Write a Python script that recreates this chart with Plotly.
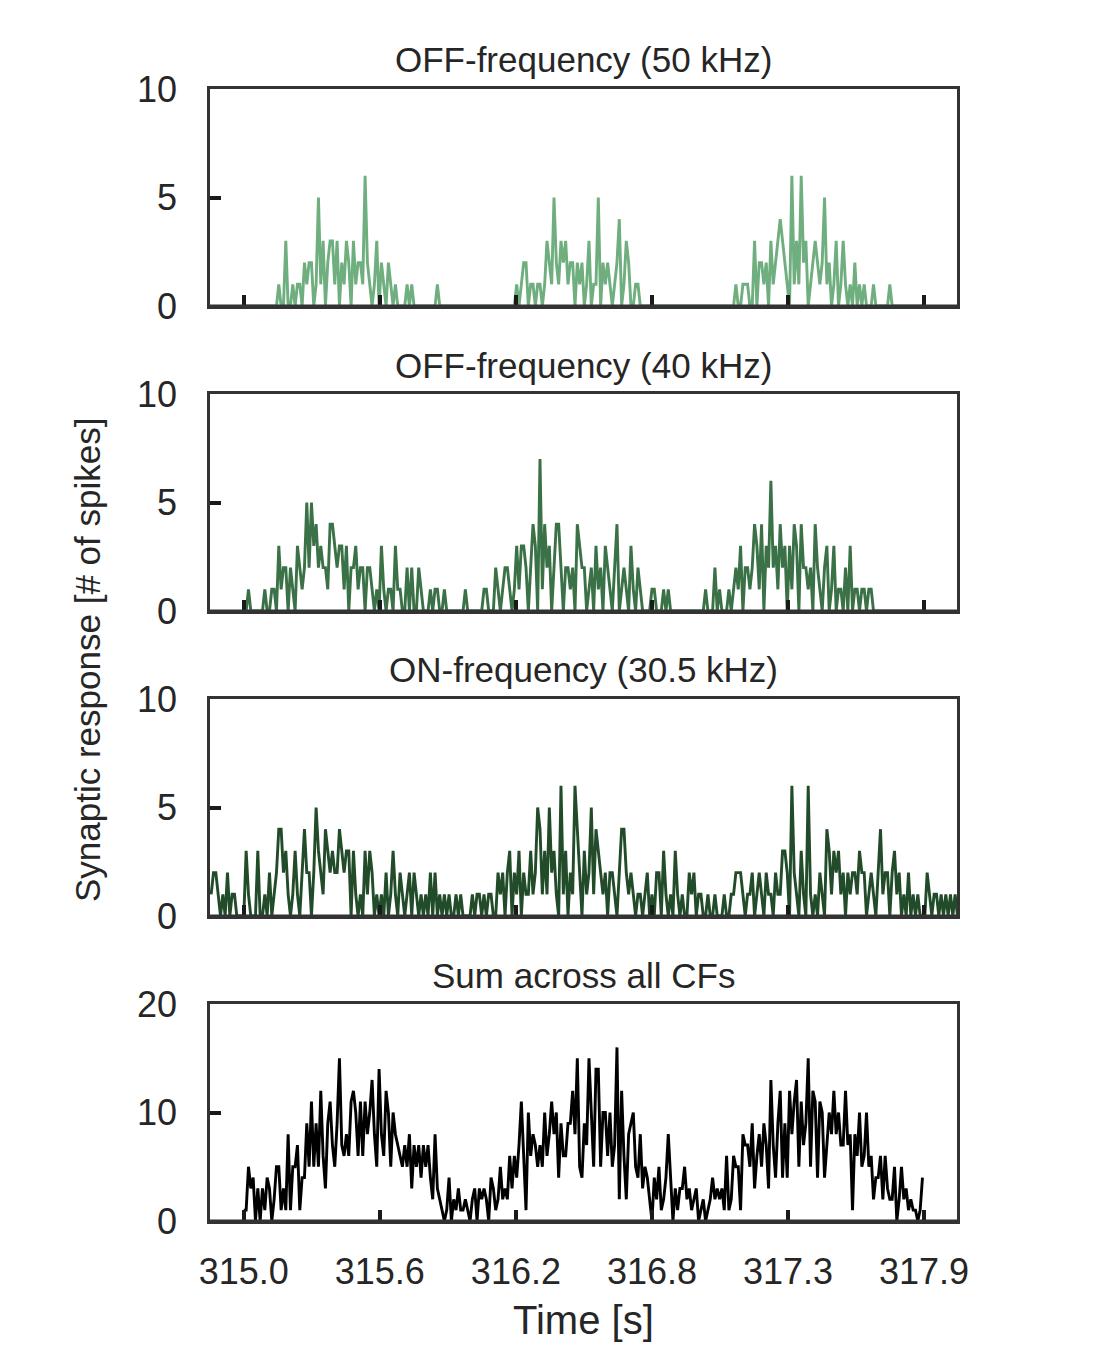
import numpy as np
import plotly.graph_objects as go

# ---------------- data ----------------
bin_width = 0.01
t_start_main = 315.0
t_start_on = 314.86

off50 = [
 0,0,0,0,0,0,0,0,0,0,0,0,0,0,0,1,0,0,3,0,
 0,1,0,1,1,0,2,1,2,2,0,1,5,1,3,0,2,3,3,1,
 3,0,2,1,3,2,0,3,1,2,2,1,6,2,1,0,1,3,0,2,
 1,0,2,1,0,1,0,0,0,0,1,0,1,0,0,0,0,0,0,0,
 0,0,0,1,0,0,0,0,0,0,0,0,0,0,0,0,0,0,0,0,
 0,0,0,0,0,0,0,0,0,0,0,0,0,0,0,0,0,1,0,1,
 2,2,0,1,1,0,1,1,0,1,3,2,1,5,2,1,3,2,3,1,
 2,2,0,2,1,2,0,1,3,0,1,1,5,0,2,1,2,1,0,1,
 2,4,0,1,3,2,0,0,1,1,0,0,0,0,0,0,0,0,0,0,
 0,0,0,0,0,0,0,0,0,0,0,0,0,0,0,0,0,0,0,0,
 0,0,0,0,0,0,0,0,0,0,0,1,0,0,1,1,1,0,0,3,
 0,2,2,1,2,0,3,1,2,3,4,3,2,1,0,6,1,3,1,6,
 2,3,0,1,2,3,2,1,2,5,1,2,0,1,3,0,1,3,1,0,
 1,0,2,0,1,0,1,0,0,0,1,0,0,0,0,0,0,1,0,0,
 0,0,0,0,0,0,0,0,0,0,0,0,
]

off40 = [
 0,0,1,0,0,0,0,0,0,1,0,0,1,1,0,3,1,2,2,0,
 2,1,0,3,2,1,2,5,2,5,3,4,2,3,2,2,1,4,4,3,
 2,3,3,1,3,0,2,2,3,1,2,2,0,2,2,1,0,1,0,3,
 1,0,1,1,0,3,1,1,0,0,2,0,2,0,0,2,1,0,0,0,
 1,0,1,1,0,0,1,0,0,0,0,0,0,0,0,1,0,0,0,0,
 0,0,0,1,1,0,0,0,2,1,0,1,2,2,1,0,1,3,1,3,
 3,2,0,2,4,3,0,7,1,4,2,3,0,2,4,4,2,0,2,2,
 1,2,0,4,3,2,2,0,1,2,0,3,1,2,0,3,2,1,0,2,
 4,0,1,2,1,0,3,1,0,2,1,0,0,0,0,1,1,0,0,0,
 1,0,1,0,0,0,0,0,0,0,0,0,0,0,0,0,0,0,1,0,
 0,0,2,0,1,0,0,0,1,0,1,2,1,3,0,2,2,1,2,4,
 3,1,4,0,3,2,6,2,3,1,4,2,3,0,3,1,4,3,0,4,
 2,2,1,2,0,4,2,1,0,2,3,0,1,3,0,1,1,0,2,0,
 3,0,1,1,0,1,1,0,1,1,0,0,0,0,0,0,0,0,0,0,
 0,0,0,0,0,0,0,0,0,0,0,0,
]

on305 = [
 1,2,2,1,0,1,0,2,0,1,1,0,0,0,0,3,1,0,0,0,
 3,0,0,1,0,2,0,1,2,4,4,2,3,1,0,1,3,1,0,2,
 4,2,2,0,2,5,3,2,1,4,3,2,3,2,2,4,3,2,3,3,
 0,3,1,0,1,0,3,1,3,2,0,1,0,1,0,2,0,1,3,1,
 0,2,1,0,1,2,0,2,1,0,1,0,1,0,2,0,2,0,1,0,
 1,0,1,0,0,1,0,1,0,0,0,0,1,0,1,1,0,1,0,1,
 1,0,0,2,1,2,0,2,3,0,2,1,3,0,2,1,1,3,1,2,
 5,4,1,3,1,5,2,3,1,0,6,1,3,0,2,1,6,4,2,0,
 3,1,2,5,1,4,3,2,1,2,0,2,2,1,0,2,4,4,2,1,
 2,1,0,1,1,0,1,2,0,1,0,2,2,0,3,1,0,1,0,3,
 1,0,1,0,0,2,1,2,0,1,1,0,0,1,0,0,1,0,0,0,
 1,0,0,1,1,2,2,2,1,0,1,1,2,0,1,2,1,0,2,1,
 1,0,2,1,1,3,3,2,0,6,2,1,0,3,1,0,6,1,0,1,
 0,2,1,0,4,3,1,3,2,3,1,2,0,2,1,2,2,1,3,2,
 2,0,1,2,1,0,2,4,1,2,2,0,2,3,1,2,0,1,0,2,
 0,1,0,1,0,0,0,2,1,0,1,1,0,1,0,1,0,1,0,1,0,
]

sum_all = [
 1,1,5,3,4,0,3,0,3,1,4,3,0,2,5,5,1,3,1,8,
 1,5,5,7,1,4,4,9,5,11,5,9,5,12,6,3,9,11,7,5,
 9,15,7,6,8,6,11,12,10,6,11,6,11,8,10,13,8,5,14,8,
 6,12,10,5,10,8,7,6,5,7,5,8,3,7,5,7,4,7,5,7,
 4,2,8,3,2,1,0,1,4,0,2,1,3,1,1,2,1,0,2,3,
 0,3,2,3,2,0,4,3,1,2,5,2,3,2,6,3,6,4,7,11,
 6,1,10,6,8,7,5,7,5,10,6,8,11,8,10,4,9,6,6,9,
 9,12,8,15,5,4,9,7,15,10,5,14,14,5,10,10,6,10,5,7,
 16,2,12,6,2,8,9,10,5,4,8,3,5,4,2,0,4,2,5,1,
 2,4,8,4,0,3,1,3,3,5,2,3,1,2,3,0,1,2,0,1,
 2,4,2,3,2,3,1,6,1,2,6,5,5,1,8,7,7,5,9,3,
 6,8,5,9,7,3,13,7,4,9,12,4,9,4,12,8,11,13,5,11,
 7,9,15,5,12,11,4,11,10,4,7,10,8,12,8,10,7,7,12,7,
 8,1,8,6,10,5,6,10,5,6,2,4,4,6,2,6,3,2,2,5,
 0,2,5,2,3,1,2,1,1,0,1,4,
]

panel_titles = ["OFF-frequency (50 kHz)", "OFF-frequency (40 kHz)",
                "ON-frequency (30.5 kHz)", "Sum across all CFs"]
x_tick_vals = [315.0, 315.5833, 316.1667, 316.75, 317.3333, 317.9167]
x_tick_text = ["315.0", "315.6", "316.2", "316.8", "317.3", "317.9"]
y_tick_sets = [[0, 5, 10], [0, 5, 10], [0, 5, 10], [0, 10, 20]]
y_max = [10, 10, 10, 20]

# ---------------- styling ----------------
OFF = 8                       # page body margin of the browser
W, H = 1097 - OFF, 1348 - OFF
series = [off50, off40, on305, sum_all]
starts = [t_start_main, t_start_main, t_start_on, t_start_main]
colors = ["#6fae7e", "#3a7146", "#224c29", "#000000"]
FONT = "Liberation Sans, Arial, sans-serif"
TXT = "#262626"
FRAME = "#333333"
x_range = [314.855, 318.058]

px_left, px_right = 210 - OFF, 957 - OFF
panel_px = [(89 - OFF, 306 - OFF), (394 - OFF, 611 - OFF),
            (699 - OFF, 916 - OFF), (1004 - OFF, 1221 - OFF)]
title_px = [60 - OFF, 365 - OFF, 670 - OFF, 975 - OFF]

fig = go.Figure()
for k in range(4):
    sfx = "" if k == 0 else str(k + 1)
    vals = series[k]
    t = starts[k] + bin_width * np.arange(len(vals))
    fig.add_trace(go.Scatter(
        x=t, y=vals, mode="lines",
        line=dict(color=colors[k], width=2.9),
        xaxis="x" + sfx, yaxis="y" + sfx,
        showlegend=False, hoverinfo="skip"))
    top, bot = panel_px[k]
    fig.layout["xaxis" + sfx] = dict(
        domain=[px_left / W, px_right / W], range=x_range,
        anchor="y" + sfx, tickmode="array",
        tickvals=x_tick_vals, ticktext=x_tick_text,
        ticks="inside", ticklen=11, tickwidth=4, tickcolor="#1a1a1a",
        showline=True, linewidth=2.5, linecolor=FRAME, mirror=True,
        showgrid=False, zeroline=False, showticklabels=(k == 3),
        tickfont=dict(family=FONT, size=36, color=TXT),
        ticklabelstandoff=17, automargin=False,
    )
    fig.layout["yaxis" + sfx] = dict(
        domain=[1 - bot / H, 1 - top / H], range=[0, y_max[k]],
        anchor="x" + sfx, tickmode="array", tickvals=y_tick_sets[k],
        ticks="inside", ticklen=11, tickwidth=4, tickcolor="#1a1a1a",
        showline=True, linewidth=2.5, linecolor=FRAME, mirror=True,
        showgrid=False, zeroline=False,
        tickfont=dict(family=FONT, size=36, color=TXT),
        ticklabelstandoff=23, automargin=False,
    )
    # bottom spine drawn over the trace (zero-valued stretches hidden under it)
    fig.add_shape(type="line", xref="x" + sfx + " domain", yref="y" + sfx,
                  x0=0, x1=1, y0=0, y1=0, layer="above",
                  line=dict(color=FRAME, width=3))
    fig.add_annotation(
        text=panel_titles[k], x=(px_left + px_right) / 2 / W, y=1 - title_px[k] / H,
        xref="paper", yref="paper", xanchor="center", yanchor="middle",
        showarrow=False, font=dict(family=FONT, size=35, color=TXT))

fig.add_annotation(
    text="Synaptic response [# of spikes]", x=(87 - OFF) / W, y=1 - (660 - OFF) / H,
    xref="paper", yref="paper", xanchor="center", yanchor="middle",
    textangle=-90, showarrow=False, font=dict(family=FONT, size=35, color=TXT))
fig.add_annotation(
    text="Time [s]", x=(px_left + px_right) / 2 / W, y=1 - (1320 - OFF) / H,
    xref="paper", yref="paper", xanchor="center", yanchor="middle",
    showarrow=False, font=dict(family=FONT, size=40, color=TXT))

fig.update_layout(
    width=W, height=H, margin=dict(l=0, r=0, t=0, b=0),
    paper_bgcolor="white", plot_bgcolor="white",
)

fig.write_html("out.html")
